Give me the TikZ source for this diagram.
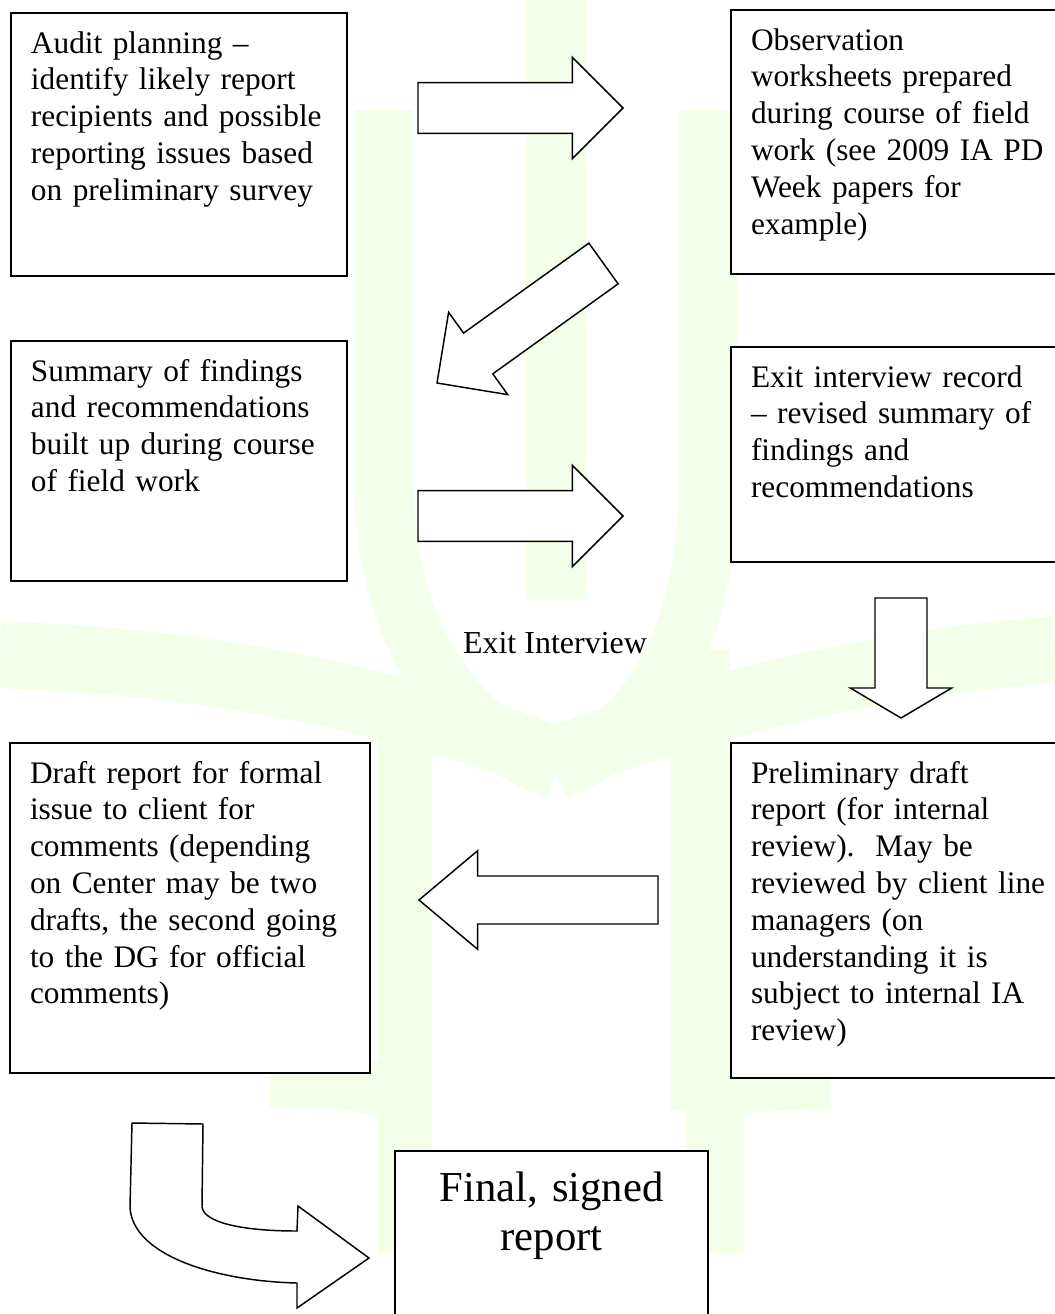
\documentclass[tikz,border=0pt]{standalone}
\usepackage{fontspec}
\setmainfont{Liberation Serif}
\usetikzlibrary{calc}

\definecolor{wmgreen}{RGB}{243,255,232}
\hyphenpenalty=10000

\newcommand{\blockarrow}[5]{%
  \coordinate (hb) at ($(#2)!#5!(#1)$);
  \draw[barrow] ($(#1)!#3!90:(#2)$) -- ($(hb)!#3!-90:(#1)$) -- ($(hb)!#4!-90:(#1)$) -- (#2)
    -- ($(hb)!#4!90:(#1)$) -- ($(hb)!#3!90:(#1)$) -- ($(#1)!#3!-90:(#2)$) -- cycle;}

\begin{document}
\begin{tikzpicture}[x=0.75pt,y=-0.75pt,
    stepbox/.style={draw,line width=1.5pt,fill=white,anchor=north west,align=left,
      inner xsep=15pt,inner ysep=0pt,text height=30pt,
      font=\fontsize{23.5}{27.6}\selectfont},
    barrow/.style={draw,line width=1.1pt,fill=white,line join=miter},
    wm/.style={draw=wmgreen,line cap=butt}]
    \useasboundingbox (0,0) rectangle (1055,1314);
    \fill[white] (0,0) rectangle (1055,1314);
    \clip (0,0) rectangle (1055,1314);

    \draw[wm,line width=45pt] (556,0) -- (556,600);
    \draw[wm,line width=44pt] (384,110) -- (384,480) .. controls (384,650) and (470,740) .. (556,770);
    \draw[wm,line width=44pt] (708,110) -- (708,480) .. controls (708,650) and (640,740) .. (556,770);
    \draw[wm,line width=50pt] (556,760) .. controls (400,700) and (200,660) .. (0,655);
    \draw[wm,line width=50pt] (556,760) .. controls (712,700) and (900,660) .. (1055,650);
    \draw[wm,line width=40pt] (405,700) -- (405,1110) .. controls (405,1085) and (340,1080) .. (270,1080);
    \draw[wm,line width=40pt] (405,1080) -- (405,1253);
    \draw[wm,line width=44pt] (700,650) -- (700,1110) .. controls (700,1085) and (760,1080) .. (830,1080);
    \draw[wm,line width=44pt] (715,1080) -- (715,1253);

    \node[stepbox,text width=222pt,text depth=167.25pt] (audit) at (10,12)
      {Audit planning --\\identify likely report\\recipients and possible\\reporting issues based\\on preliminary survey};
    \node[stepbox,text width=225pt,text depth=168pt] (observe) at (730,9)
      {Observation\\worksheets prepared\\during course of field\\work (see 2009 IA PD\\Week papers for\\example)};
    \node[stepbox,text width=222pt,text depth=150pt] (summary) at (10,340)
      {Summary of findings\\and recommendations\\built up during course\\of field work};
    \node[stepbox,text width=225pt,text depth=131.25pt] (exitrec) at (730,346)
      {Exit interview record\\-- revised summary of\\findings and\\recommendations};
    \node[stepbox,text width=240pt,text depth=217.5pt] (draft) at (9,742)
      {Draft report for formal\\issue to client for\\comments (depending\\on Center may be two\\drafts, the second going\\to the DG for official\\comments)};
    \node[stepbox,text width=225pt,text depth=221.25pt] (prelim) at (730,742)
      {Preliminary draft\\report (for internal\\review).\ \ May be\\reviewed by client line\\managers (on\\understanding it is\\subject to internal IA\\review)};
    \node[stepbox,align=center,text width=204.75pt,text height=37.5pt,text depth=120pt,
      font=\fontsize{32}{37}\selectfont] (final) at (394,1150) {Final, signed\\report};
    \node[anchor=base,inner sep=0pt,font=\fontsize{24}{27.6}\selectfont] (exitlbl) at (555,653) {Exit Interview};

    \coordinate (a1s) at (418,108);
    \coordinate (a1e) at (623,108);
    \coordinate (a2s) at (603.5,263.5);
    \coordinate (a2e) at (437,383);
    \coordinate (a3s) at (418,516);
    \coordinate (a3e) at (623,516);
    \coordinate (a4s) at (901,598);
    \coordinate (a4e) at (901,718);
    \coordinate (a5s) at (658,900);
    \coordinate (a5e) at (419,900);

    \blockarrow{a1s}{a1e}{19pt}{38pt}{38pt}
    \blockarrow{a2s}{a2e}{18.8pt}{38pt}{38pt}
    \blockarrow{a3s}{a3e}{19pt}{38pt}{38pt}
    \blockarrow{a4s}{a4e}{19.5pt}{38pt}{22.5pt}
    \blockarrow{a5s}{a5e}{18pt}{37pt}{44pt}
    \draw[barrow] (132,1123) -- (203,1124) -- (202,1207) .. controls (204,1222) and (240,1231) .. (297,1231)
      -- (298,1206) -- (369,1258) -- (297,1308) -- (297,1283) .. controls (215,1281) and (132,1255) .. (130,1207) -- cycle;
\end{tikzpicture}
\end{document}
